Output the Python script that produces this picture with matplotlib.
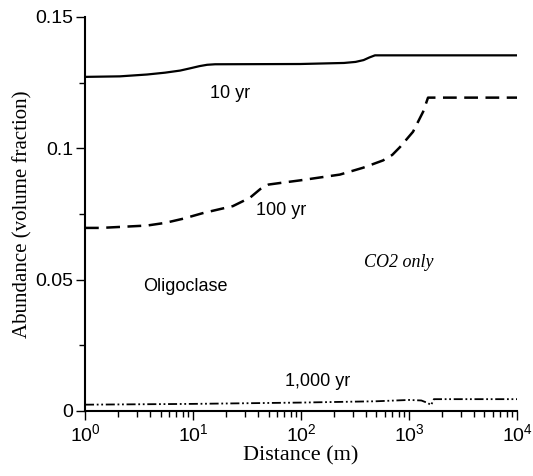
import matplotlib

matplotlib.use("Agg")

import matplotlib.pyplot as plt
from matplotlib.ticker import FixedLocator, LogLocator, NullFormatter

plt.rcParams.update(
    {
        "font.family": ["Liberation Sans", "DejaVu Sans"],
        "mathtext.fontset": "custom",
        "mathtext.rm": "Liberation Sans",
        "axes.spines.top": False,
        "axes.spines.right": False,
    }
)

# 10 yr profile (solid)
dist_10 = [1, 2.1, 3.75, 5.5, 7.6, 9.5, 11.5, 13.5, 16, 98, 250, 320, 380, 430, 484, 1e4]
abund_10 = [0.1272, 0.1274, 0.1281, 0.1288, 0.1296, 0.1305, 0.1313, 0.1318, 0.1320, 0.1321,
            0.1325, 0.1329, 0.1336, 0.1346, 0.1354, 0.1354]

# 100 yr profile (dashed)
dist_100 = [1, 1.4, 3.75, 5.5, 8.1, 12.5, 23.4, 33.7, 42, 50, 64, 98, 229, 375, 575, 700,
            826, 1089, 1350, 1500, 1e4]
abund_100 = [0.0697, 0.0697, 0.0706, 0.0716, 0.0732, 0.0754, 0.0780, 0.0812, 0.0845, 0.0862,
             0.0868, 0.0878, 0.0900, 0.0926, 0.0954, 0.0975, 0.1005, 0.1063, 0.1139, 0.1193, 0.1193]

# 1,000 yr profile (dash-dot-dot)
dist_1000 = [1, 10, 100, 500, 1000, 1300, 1500, 1600, 1700, 1e4]
abund_1000 = [0.0024, 0.0027, 0.0032, 0.0037, 0.0042, 0.0040, 0.0030, 0.0022, 0.0045, 0.0045]

fig = plt.figure(figsize=(5.33, 4.76), dpi=100)
ax = fig.add_axes([0.1595, 0.1366, 0.8105, 0.8277])

ax.plot(dist_10, abund_10, color="black", lw=1.6)
ax.plot(dist_100, abund_100, color="black", lw=1.8, ls=(0, (5.5, 3)))
ax.plot(dist_1000, abund_1000, color="black", lw=1.3, ls=(0, (5, 1.5, 1, 1.5, 1, 1.5)))

ax.set_xscale("log")
ax.set_xlim(1, 1e4)
ax.set_ylim(0, 0.15)
ax.yaxis.set_major_locator(FixedLocator([0, 0.05, 0.1, 0.15]))
ax.set_yticklabels(["0", "0.05", "0.1", "0.15"])
ax.yaxis.set_minor_locator(FixedLocator([0.025, 0.075, 0.125]))
ax.xaxis.set_major_locator(LogLocator(base=10, numticks=10))
ax.xaxis.set_minor_locator(LogLocator(base=10, subs=range(2, 10), numticks=10))
ax.xaxis.set_minor_formatter(NullFormatter())

for s in ("left", "bottom"):
    ax.spines[s].set_linewidth(1.5)
ax.tick_params(which="major", direction="out", length=6.5, width=1.0, labelsize=14, pad=2)
ax.tick_params(which="minor", direction="out", length=4, width=1.0)

ax.set_xlabel("Distance (m)", family="Liberation Serif", fontsize=16, labelpad=1)
ax.set_ylabel("Abundance (volume fraction)", family="Liberation Serif", fontsize=15, labelpad=2)

ax.text(22, 0.121, "10 yr", fontsize=13, ha="center", va="center")
ax.text(65, 0.0765, "100 yr", fontsize=13, ha="center", va="center")
ax.text(8.5, 0.0475, "Oligoclase", fontsize=13, ha="center", va="center")
ax.text(800, 0.0566, "CO2 only", family="Liberation Serif", style="italic", fontsize=13,
        ha="center", va="center")
ax.text(143, 0.0113, "1,000 yr", fontsize=13, ha="center", va="center")

fig.savefig("out.png", dpi=100)
